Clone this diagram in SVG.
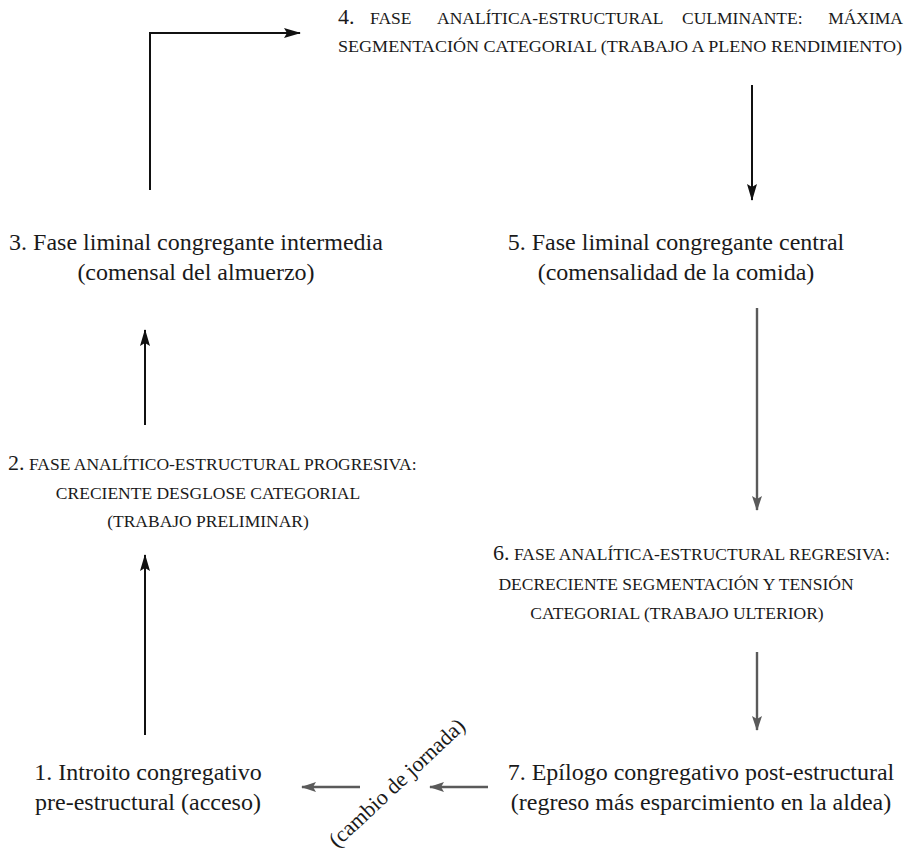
<svg xmlns="http://www.w3.org/2000/svg" width="912" height="855" viewBox="0 0 912 855">
<defs>
<style>
text{font-family:"Liberation Serif","Times New Roman",serif;fill:#1a1a1a}
.t{font-size:24px}
.sc{font-size:17.5px}
.n{font-size:22px}
.c{text-anchor:middle}
.ln{stroke:#111;stroke-width:2;fill:none}
.lg{stroke:#5a5a5a;stroke-width:2.4;fill:none}
</style>
<marker id="ab" viewBox="0 0 17 10" refX="16" refY="5" markerWidth="17" markerHeight="10" markerUnits="userSpaceOnUse" orient="auto"><path d="M0,0 L17,5 L0,10 L3,5 z" fill="#111"/></marker>
<marker id="ag" viewBox="0 0 15 10" refX="14" refY="5" markerWidth="15" markerHeight="10" markerUnits="userSpaceOnUse" orient="auto"><path d="M0,0 L15,5 L0,10 L3,5 z" fill="#5a5a5a"/></marker>
</defs>
<rect width="912" height="855" fill="#fff"/>
<g id="connectors">
<path class="ln" d="M150,190 V33 H300" marker-end="url(#ab)"/>
<path class="ln" d="M752,85 V200" marker-end="url(#ab)"/>
<path class="ln" d="M145,425 V330" marker-end="url(#ab)"/>
<path class="lg" d="M757,308 V510" marker-end="url(#ag)"/>
<path class="ln" d="M145,735 V555" marker-end="url(#ab)"/>
<path class="lg" d="M757,652 V730" marker-end="url(#ag)"/>
<path class="lg" d="M488,787 H430" marker-end="url(#ag)"/>
<path class="lg" d="M360,787 H302" marker-end="url(#ag)"/>
<text style="font-size:22px" transform="translate(397,783) rotate(-43)" y="7" text-anchor="middle">(cambio de jornada)</text>
</g>
<g id="n4">
<text y="24"><tspan class="n" x="338">4.</tspan><tspan class="sc" x="370">FASE</tspan><tspan class="sc" x="437">ANALÍTICA-ESTRUCTURAL</tspan><tspan class="sc" x="682">CULMINANTE:</tspan><tspan class="sc" x="903" text-anchor="end">MÁXIMA</tspan></text>
<text class="sc" x="338" y="52" textLength="564" lengthAdjust="spacingAndGlyphs">SEGMENTACIÓN CATEGORIAL (TRABAJO A PLENO RENDIMIENTO)</text>
</g>
<g id="n3">
<text class="t c" x="196" y="250">3. Fase liminal congregante intermedia</text>
<text class="t c" x="196" y="280">(comensal del almuerzo)</text>
</g>
<g id="n5">
<text class="t c" x="676" y="250">5. Fase liminal congregante central</text>
<text class="t c" x="676" y="280">(comensalidad de la comida)</text>
</g>
<g id="n2">
<text x="8" y="470"><tspan class="n">2.</tspan><tspan class="sc"> FASE ANALÍTICO-ESTRUCTURAL PROGRESIVA:</tspan></text>
<text class="sc c" x="208" y="499">CRECIENTE DESGLOSE CATEGORIAL</text>
<text class="sc c" x="208" y="527">(TRABAJO PRELIMINAR)</text>
</g>
<g id="n6">
<text x="493" y="560"><tspan class="n">6.</tspan><tspan class="sc"> FASE ANALÍTICA-ESTRUCTURAL REGRESIVA:</tspan></text>
<text class="sc c" x="676" y="590">DECRECIENTE SEGMENTACIÓN Y TENSIÓN</text>
<text class="sc c" x="677" y="619">CATEGORIAL (TRABAJO ULTERIOR)</text>
</g>
<g id="n1">
<text class="t c" x="148" y="780">1. Introito congregativo</text>
<text class="t c" x="148" y="810">pre-estructural (acceso)</text>
</g>
<g id="n7">
<text class="t c" x="701" y="780">7. Epílogo congregativo post-estructural</text>
<text class="t c" x="701" y="810">(regreso más esparcimiento en la aldea)</text>
</g>
</svg>
